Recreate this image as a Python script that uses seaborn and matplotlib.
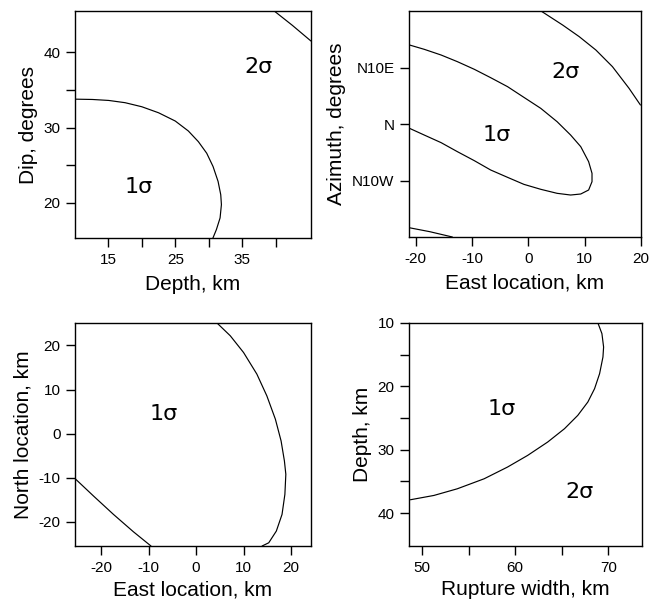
import matplotlib
matplotlib.use("Agg")
import matplotlib.pyplot as plt
import seaborn as sns
import pandas as pd

# ---- Data ----
# Panel A: Dip vs Depth
a_1s_x = [10.1, 12.6, 15.05, 17.5, 20.0, 22.5, 25.0, 26.95, 28.45, 29.7, 30.65,
          31.4, 31.8, 31.9, 31.7, 31.15, 30.6]
a_1s_y = [33.77, 33.73, 33.6, 33.3, 32.76, 31.96, 30.86, 29.54, 28.12, 26.58,
          24.81, 22.83, 21.06, 19.74, 17.97, 16.42, 15.23]
a_2s_x = [39.8, 42.5, 45.3]
a_2s_y = [45.5, 43.6, 41.5]

# Panel B: Azimuth vs East location
b_1s_x = [-21.1, -18.5, -15.5, -12.6, -9.6, -6.7, -3.7, -0.8, 2.2, 5.1, 7.5, 9.3,
          10.7, 11.3, 11.3, 10.7, 9.3, 7.5, 5.1, 2.2, -0.8, -3.7, -6.7, -9.6,
          -12.6, -15.5, -18.5, -21.1]
b_1s_y = [13.98, 13.22, 12.21, 11.03, 9.68, 8.2, 6.61, 4.72, 2.77, 0.41, -1.95,
          -4.01, -6.67, -8.73, -10.21, -11.68, -12.39, -12.57, -12.27, -11.56,
          -10.68, -9.44, -8.14, -6.49, -4.9, -3.3, -1.95, -0.77]
b_2s_x = [2.24, 6.08, 9.03, 11.98, 14.93, 17.88, 19.9]
b_2s_y = [20.0, 17.52, 15.46, 13.1, 10.15, 6.31, 3.36]
b_2s2_x = [-21.2, -17.5, -13.5]
b_2s2_y = [-18.35, -19.06, -20.0]
b_yticks = [10, 0, -10]
b_yticklabels = ["N10E", "N", "N10W"]

# Panel C: North location vs East location
c_1s_x = [4.5, 7.2, 10.0, 12.8, 14.9, 16.7, 17.9, 18.6, 18.9, 18.7, 18.1, 16.9,
          15.3, 13.9]
c_1s_y = [25.0, 22.2, 18.4, 13.5, 8.57, 3.27, -1.66, -6.2, -9.23, -13.78, -18.33,
          -22.11, -24.77, -25.5]
c_2_x = [-25.5, -21.6, -17.4, -13.2, -9.5]
c_2_y = [-10.2, -14.16, -18.33, -22.27, -25.5]

# Panel D: Depth vs Rupture width
d_1s_x = [68.87, 69.3, 69.48, 69.41, 69.05, 68.51, 67.79, 66.71, 65.28, 63.48,
          61.33, 59.17, 56.66, 53.78, 51.27, 48.75]
d_1s_y = [10.0, 11.68, 13.79, 15.37, 18.0, 20.37, 22.47, 24.58, 26.69, 28.79,
          30.9, 32.74, 34.59, 36.17, 37.22, 37.9]

sns.set_style("white")
plt.rcParams["font.family"] = ["Liberation Sans", "DejaVu Sans"]
plt.rcParams["axes.unicode_minus"] = False
for k in ["text.color", "axes.labelcolor", "xtick.color", "ytick.color"]:
    plt.rcParams[k] = "black"

W, H = 665, 601
fig = plt.figure(figsize=(W / 100, H / 100), dpi=100)


def make_ax(l, r, t, b):
    return fig.add_axes([l / W, 1 - b / H, (r - l) / W, (b - t) / H])


def style(ax, xpad):
    for s in ax.spines.values():
        s.set_visible(True)
        s.set_color("black")
        s.set_linewidth(1.0)
    ax.tick_params(which="both", direction="out", length=6.5, width=1.0,
                   color="black", labelcolor="black", labelsize=11, left=True,
                   bottom=True, top=False, right=False, pad=4)
    ax.tick_params(which="minor", labelleft=False, labelbottom=False)
    ax.xaxis.label.set_size(15)
    ax.yaxis.label.set_size(15)
    ax.xaxis.labelpad = xpad


def curve(ax, x, y):
    df = pd.DataFrame({"x": x, "y": y})
    sns.lineplot(data=df, x="x", y="y", sort=False, estimator=None,
                 color="black", linewidth=0.85, ax=ax)


sig_kw = dict(fontsize=16, ha="center", va="center",
              family=["DejaVu Sans"])

# Panel A
ax1 = make_ax(75, 311, 11, 238)
curve(ax1, a_1s_x, a_1s_y)
curve(ax1, a_2s_x, a_2s_y)
ax1.set_xlim(10, 45.3)
ax1.set_ylim(15.3, 45.5)
ax1.set_xticks([15, 25, 35])
ax1.set_xticks([20, 30, 40], minor=True)
ax1.set_yticks([20, 30, 40])
ax1.set_yticks([25, 35], minor=True)
ax1.set_xlabel("Depth, km")
ax1.set_ylabel("Dip, degrees")
ax1.text(19.5, 22.1, "1σ", **sig_kw)
ax1.text(37.4, 38.0, "2σ", **sig_kw)
style(ax1, 6)

# Panel B
ax2 = make_ax(409, 641, 11, 237)
curve(ax2, b_1s_x, b_1s_y)
curve(ax2, b_2s_x, b_2s_y)
curve(ax2, b_2s2_x, b_2s2_y)
ax2.set_xlim(-21.2, 20)
ax2.set_ylim(-20, 20)
ax2.set_xticks([-20, -10, 0, 10, 20])
ax2.set_yticks(b_yticks)
ax2.set_yticklabels(b_yticklabels)
ax2.set_xlabel("East location, km")
ax2.set_ylabel("Azimuth, degrees")
ax2.text(-5.7, -1.9, "1σ", **sig_kw)
ax2.text(6.6, 9.2, "2σ", **sig_kw)
style(ax2, 6)

# Panel C
ax3 = make_ax(75, 311, 323, 546)
curve(ax3, c_1s_x, c_1s_y)
curve(ax3, c_2_x, c_2_y)
ax3.set_xlim(-25.5, 24.2)
ax3.set_ylim(-25.5, 25.1)
ax3.set_xticks([-20, -10, 0, 10, 20])
ax3.set_yticks([-20, -10, 0, 10, 20])
ax3.set_xlabel("East location, km")
ax3.set_ylabel("North location, km")
ax3.text(-6.9, 4.4, "1σ", **sig_kw)
style(ax3, 4)

# Panel D
ax4 = make_ax(409, 642, 323, 546)
curve(ax4, d_1s_x, d_1s_y)
ax4.set_xlim(48.6, 73.6)
ax4.set_ylim(45.2, 10)
ax4.set_xticks([50, 60, 70])
ax4.set_xticks([55, 65], minor=True)
ax4.set_yticks([10, 20, 30, 40])
ax4.set_yticks([15, 25, 35], minor=True)
ax4.set_xlabel("Rupture width, km")
ax4.set_ylabel("Depth, km")
ax4.text(58.5, 23.5, "1σ", **sig_kw)
ax4.text(66.9, 36.7, "2σ", **sig_kw)
style(ax4, 4)

fig.savefig("out.png", dpi=100)
